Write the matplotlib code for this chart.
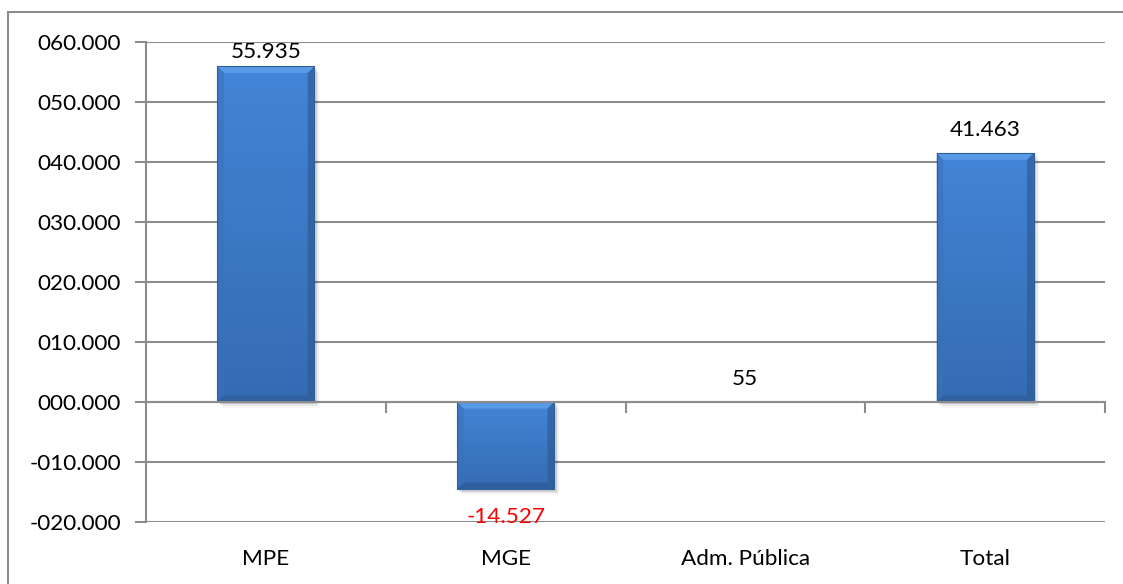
import numpy as np
import matplotlib.pyplot as plt
from matplotlib.patches import Rectangle
from matplotlib.transforms import blended_transform_factory

categories = ['MPE', 'MGE', 'Adm. Pública', 'Total']
values = [55935, -14527, 55, 41463]
label_colors = ['black', 'red', 'black', 'black']
yticks = [-20000, -10000, 0, 10000, 20000, 30000, 40000, 50000, 60000]

plt.rcParams['font.family'] = ['Lato', 'DejaVu Sans']
FS = 16.2


def fmt_br(v):
    # 55935 -> "55.935"
    s = f"{abs(int(v)):,}".replace(',', '.')
    return ('-' if v < 0 else '') + s


def fmt_tick(v):
    # Excel format 000.000
    a = abs(int(v))
    return ('-' if v < 0 else '') + f"{a // 1000:03d}.{a % 1000:03d}"


def gradient_bar(ax, patch):
    x0, y0 = patch.get_x(), patch.get_y()
    w, h = patch.get_width(), patch.get_height()
    if h < 0:
        y0, h = y0 + h, -h
    if h < 300:
        return
    # soft shadow
    for k, a in enumerate([0.10, 0.06, 0.03]):
        dx = 0.010 + k * 0.006
        dy = 400 + k * 300
        ax.add_patch(Rectangle((x0 + dx, y0 - dy), w, h, facecolor='black',
                               alpha=a, edgecolor='none', zorder=2))
    # base gradient: lighter at top, darker at bottom
    ny, nx = 64, 64
    yy = np.linspace(0, 1, ny)[:, None]
    xx = np.linspace(0, 1, nx)[None, :]
    top = np.array([0.26, 0.52, 0.84])
    bot = np.array([0.21, 0.42, 0.70])
    col = bot[None, None, :] * (1 - yy[..., None]) + top[None, None, :] * yy[..., None]
    col = col * np.ones_like(xx)[..., None]
    img = ax.imshow(col, extent=(x0, x0 + w, y0, y0 + h), origin='lower',
                    aspect='auto', zorder=3, interpolation='bilinear')
    img.set_clip_path(patch)
    # bevel strips
    bev_y = min(1100, h / 2)
    bev_x = 0.028
    strips = [
        ([(x0, y0 + h), (x0 + w, y0 + h), (x0 + w - bev_x, y0 + h - bev_y),
          (x0 + bev_x, y0 + h - bev_y)], '#62a2ec', 0.75),
        ([(x0, y0), (x0 + w, y0), (x0 + w - bev_x, y0 + bev_y),
          (x0 + bev_x, y0 + bev_y)], '#2f5d98', 0.75),
        ([(x0, y0), (x0, y0 + h), (x0 + bev_x, y0 + h - bev_y),
          (x0 + bev_x, y0 + bev_y)], '#3a72b8', 0.55),
        ([(x0 + w, y0), (x0 + w, y0 + h), (x0 + w - bev_x, y0 + h - bev_y),
          (x0 + w - bev_x, y0 + bev_y)], '#2d5a94', 0.65),
    ]
    for pts, c, a in strips:
        ax.add_patch(plt.Polygon(pts, facecolor=c, alpha=a, edgecolor='none', zorder=4))
    ax.add_patch(Rectangle((x0, y0), w, h, facecolor='none',
                           edgecolor='#2f5e98', lw=0.8, zorder=5))


fig = plt.figure(figsize=(11.23, 5.84), dpi=100)
ax = fig.add_axes([146 / 1123, 62 / 584, (1105 - 146) / 1123, (522 - 42) / 584])

x = np.arange(len(categories))
bars = ax.bar(x, values, width=0.405, color='none', edgecolor='none', zorder=3)
for b in bars:
    gradient_bar(ax, b)

ax.set_xlim(-0.5, len(categories) - 0.5)
ax.set_ylim(-20000, 60000)
ax.set_yticks(yticks)
ax.set_yticklabels([fmt_tick(v) for v in yticks], fontsize=FS)
ax.yaxis.grid(True, color='#8c8c8c', lw=1.5, zorder=0)
ax.set_axisbelow(True)
ax.tick_params(axis='y', length=8, width=1.5, color='#8c8c8c', pad=10)

for s in ['top', 'right']:
    ax.spines[s].set_visible(False)
ax.spines['left'].set_color('#8c8c8c')
ax.spines['left'].set_linewidth(1.5)
ax.spines['bottom'].set_position(('data', 0))
ax.spines['bottom'].set_color('#8c8c8c')
ax.spines['bottom'].set_linewidth(1.5)
ax.spines['bottom'].set_zorder(6)

ax.set_xticks(x + 0.5)
ax.set_xticklabels([])
ax.tick_params(axis='x', length=8, width=1.5, color='#8c8c8c', direction='out')

trans = blended_transform_factory(ax.transData, ax.transAxes)
for xi, cat in zip(x, categories):
    ax.text(xi, -0.077, cat, transform=trans, ha='center', va='center', fontsize=FS)

ymax = ax.get_ylim()[1]
for xi, v, c in zip(x, values, label_colors):
    if v >= 0:
        ytop = min(v + 5500, ymax)
        ax.text(xi, ytop, fmt_br(v), ha='center', va='top', fontsize=FS, color=c)
    else:
        ax.annotate(fmt_br(v), (xi, v), xytext=(0, -13), textcoords='offset points',
                    ha='center', va='top', fontsize=FS, color=c)

# outer chart border
fig.patches.append(Rectangle((8 / 1123, -0.05), 1.2, (584 - 12) / 584 + 0.05,
                             transform=fig.transFigure, facecolor='none',
                             edgecolor='#8c8c8c', lw=1.5))

fig.savefig('out.png', dpi=100)
